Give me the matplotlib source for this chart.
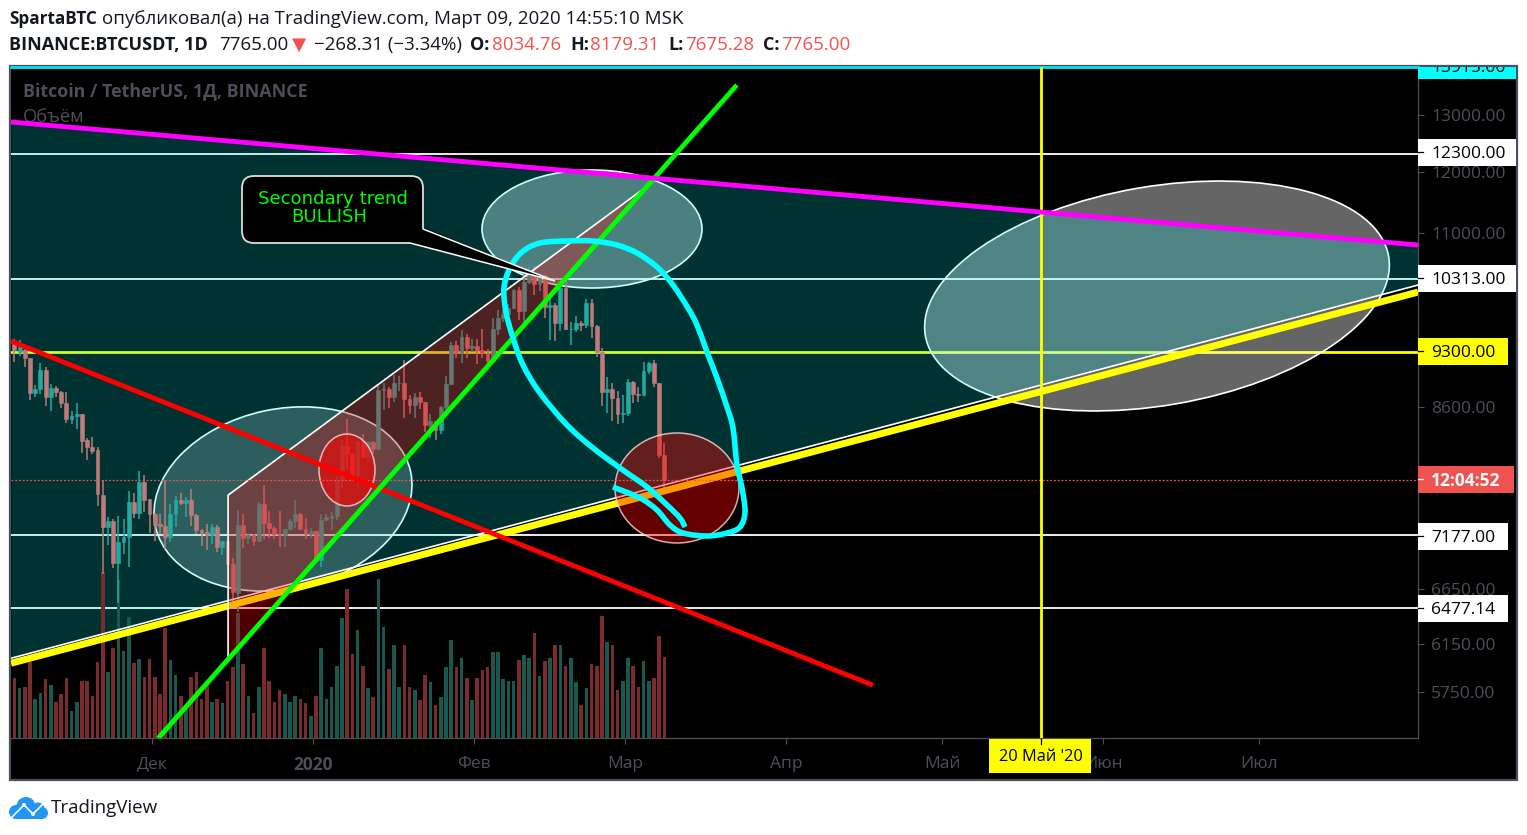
import numpy as np
import matplotlib
matplotlib.use("Agg")
import matplotlib.pyplot as plt
from matplotlib.patches import Circle, Ellipse, FancyBboxPatch, PathPatch, Polygon, Rectangle
from matplotlib.path import Path
from matplotlib.ticker import NullLocator
from matplotlib.transforms import Affine2D, Bbox, blended_transform_factory

plt.rcParams['font.family'] = ['Open Sans', 'DejaVu Sans']

# daily candles, 5 Nov 2019 .. 9 Mar 2020
opens = [9430, 9300, 9320, 9220, 8770, 8820, 9060, 8730, 8840, 8790, 8650, 8460, 8500, 8520, 8210, 8130,
         8100, 7600, 7260, 7320, 6900, 7110, 7160, 7520, 7410, 7740, 7550, 7400, 7290, 7270, 7160, 7400,
         7540, 7510, 7540, 7380, 7225, 7210, 7180, 7260, 7055, 7120, 6890, 6610, 7280, 7150, 7180, 7120,
         7500, 7300, 7250, 7190, 7175, 7240, 7320, 7400, 7240, 7190, 7215, 6930, 7335, 7350, 7370, 7760,
         8145, 8055, 7818, 8197, 8020, 8184, 8110, 8810, 8821, 8720, 8898, 8904, 8700, 8632, 8725, 8660,
         8385, 8430, 8330, 8600, 8890, 9390, 9285, 9500, 9350, 9380, 9330, 9290, 9180, 9610, 9750, 9810,
         9900, 10150, 9850, 10270, 10350, 10235, 10370, 9905, 9935, 9690, 10180, 9600, 9608, 9690, 9665,
         9970, 9650, 9300, 8785, 8820, 8710, 8523, 8530, 8915, 8760, 8750, 9050, 9160, 8900, 8034.76]
highs = [9470, 9460, 9360, 9220, 8870, 9150, 9100, 8890, 8860, 8800, 8790, 8560, 8650, 8520, 8230, 8250,
         8130, 7760, 7360, 7340, 7370, 7340, 7640, 7620, 7860, 7810, 7550, 7410, 7400, 7760, 7500, 7590,
         7620, 7580, 7660, 7400, 7245, 7290, 7290, 7280, 7120, 7120, 6950, 7440, 7400, 7200, 7190, 7520,
         7700, 7430, 7270, 7430, 7240, 7340, 7540, 7410, 7350, 7250, 7215, 7400, 7400, 7420, 7800, 8210,
         8455, 8060, 8200, 8286, 8197, 8196, 8880, 8900, 8850, 9000, 8988, 9198, 8745, 8773, 8790, 8670,
         8515, 8435, 8610, 8990, 9430, 9450, 9590, 9540, 9470, 9465, 9600, 9345, 9755, 9870, 9875, 9950,
         10165, 10190, 10390, 10495, 10500, 10395, 10385, 10050, 9970, 10250, 10300, 9700, 9780, 9710,
         10025, 10025, 9660, 9350, 8980, 8900, 8800, 8750, 8950, 8930, 8850, 9170, 9170, 9190, 8900, 8179.31]
lows = [9170, 9240, 9110, 8690, 8720, 8760, 8610, 8550, 8730, 8590, 8410, 8400, 8340, 8060, 7980, 8050,
        7475, 6790, 7080, 6850, 6520, 6990, 6860, 7350, 7340, 7420, 7200, 7120, 7190, 7040, 7110, 7260,
        7490, 7360, 7270, 7190, 7065, 7030, 7090, 7010, 6980, 6890, 6540, 6435, 7050, 7090, 7070, 7110,
        7140, 7150, 7140, 7060, 7060, 7230, 7250, 7230, 7140, 7150, 6910, 6865, 7320, 7230, 7330, 7670,
        7870, 7750, 7670, 8000, 7960, 8055, 8105, 8565, 8586, 8670, 8805, 8466, 8520, 8475, 8580, 8300,
        8240, 8215, 8285, 8560, 8870, 9220, 9150, 9225, 9300, 9145, 9225, 9080, 9165, 9530, 9700, 9670,
        9880, 9730, 9700, 10240, 10080, 10130, 9750, 9455, 9450, 9575, 9590, 9385, 9560, 9575, 9620,
        9480, 9230, 8615, 8530, 8430, 8400, 8410, 8490, 8650, 8660, 8740, 9020, 8850, 8000, 7675.28]
closes = [9330, 9370, 9220, 8770, 8830, 9060, 8730, 8840, 8790, 8650, 8460, 8500, 8520, 8200, 8130, 8090,
          7605, 7260, 7320, 6900, 7110, 7160, 7520, 7410, 7740, 7545, 7400, 7280, 7270, 7160, 7400, 7540,
          7510, 7540, 7380, 7225, 7195, 7180, 7260, 7055, 7120, 6890, 6620, 7280, 7150, 7180, 7120, 7500,
          7300, 7250, 7190, 7175, 7240, 7320, 7400, 7240, 7190, 7215, 6930, 7335, 7365, 7370, 7760, 8145,
          8055, 7818, 8197, 8020, 8184, 8110, 8810, 8821, 8720, 8898, 8904, 8700, 8632, 8725, 8660, 8385,
          8430, 8330, 8600, 8890, 9390, 9285, 9500, 9350, 9380, 9330, 9290, 9180, 9610, 9750, 9810, 9900,
          10150, 9850, 10270, 10350, 10235, 10370, 9905, 9935, 9690, 10180, 9600, 9608, 9690, 9665, 9970,
          9650, 9300, 8785, 8820, 8710, 8523, 8530, 8915, 8760, 8750, 9050, 9160, 8900, 8034, 7765]
volumes = [60, 50, 51, 76, 39, 45, 59, 53, 36, 44, 60, 27, 36, 57, 57, 42, 76, 166, 66, 90, 158, 87, 121, 75,
           79, 61, 79, 61, 44, 110, 78, 63, 42, 30, 61, 66, 39, 55, 36, 39, 35, 57, 71, 125, 74, 42, 25, 51,
           90, 57, 36, 48, 44, 36, 42, 39, 35, 22, 42, 90, 39, 51, 72, 120, 149, 84, 108, 72, 50, 41, 159,
           111, 69, 93, 51, 93, 51, 48, 38, 63, 56, 33, 41, 71, 98, 71, 80, 60, 38, 60, 68, 71, 86, 86, 59,
           57, 57, 78, 83, 80, 105, 62, 77, 80, 93, 93, 72, 80, 56, 33, 50, 74, 72, 122, 96, 93, 48, 57, 80,
           72, 51, 77, 57, 60, 102, 81]
first_day = -57.45  # days from 1 Jan 2020, bars sit a little left of the date ticks

month_days = [-31, 0, 31, 60, 91, 121, 152, 182]
month_labels = ['Дек', '2020', 'Фев', 'Мар', 'Апр', 'Май', 'Июн', 'Июл']
price_ticks = [13000, 12000, 11000, 8600, 6650, 6150, 5750]
hlines_white = [12300, 10313, 7177, 6477.14]
last_price = 7765
marker_day = 140

magenta_days, magenta_prices = [-58.1, 212.5], [12872, 10817]
yellow_days, yellow_prices = [-58.1, 212.5], [5989, 10121]
edge_days, edge_prices = [-58.1, 212.5], [6031, 10222]
red_days, red_prices = [-58.1, 107.7], [9443, 5805]
green_days, green_prices = [-29.8, 81.5], [5386, 13563]
wedge_days, wedge_prices = [-16.35, -16.35, 64.8], [6023, 7595, 11791]

# hand drawn cyan loop, figure pixels
loop_x = [613, 640, 657, 670, 683, 707, 727, 740, 745, 742, 737, 733, 727, 717, 707, 697, 688, 673, 657, 637,
          617, 593, 567, 540, 522, 510, 504, 506, 513, 523, 540, 567, 593, 620, 647, 667, 680, 685]
loop_y = [487, 498, 510, 525, 533, 536, 533, 527, 512, 488, 465, 428, 407, 378, 352, 325, 308, 285, 267, 253,
          245, 241, 241, 243, 252, 268, 288, 312, 338, 365, 393, 425, 448, 468, 487, 505, 518, 527]

W, H = 1527, 835
TICK = '#4d4e5a'
FRAME = '#4c4f5c'
DARK = '#131722'
RED = '#ef5350'

fig = plt.figure(figsize=(W / 100, H / 100), dpi=100, facecolor='white')
px = Affine2D().scale(1, -1).translate(0, H)


def fy(y):
    return 1 - y / H


fig.add_artist(Rectangle((10 / W, fy(780)), 1507 / W, 714 / H, transform=fig.transFigure,
                         facecolor='black', edgecolor=FRAME, linewidth=1.6, zorder=-1))

ax = fig.add_axes([11 / W, fy(738), 1407 / W, 671 / H], facecolor='black')
ax.set_yscale('log')
ax.set_xlim(-58.1, 212.5)
ax.set_ylim(5388, 13913)
for name in ['top', 'left']:
    ax.spines[name].set_visible(False)
for name in ['right', 'bottom']:
    ax.spines[name].set_color(FRAME)
    ax.spines[name].set_linewidth(0.9)

ax.yaxis.tick_right()
ax.yaxis.set_minor_locator(NullLocator())
ax.set_yticks(price_ticks, [f'{v:.2f}' for v in price_ticks])
ax.tick_params(axis='y', which='both', length=4, width=0.8, color=TICK, labelcolor=TICK, labelsize=12.5, pad=5.5)
ax.set_xticks(month_days, month_labels)
ax.tick_params(axis='x', length=4, width=0.8, color=TICK, labelcolor=TICK, labelsize=12.5, pad=9)
ax.get_xticklabels()[1].set_fontweight('bold')

# horizontal levels sit under the teal wedge
for level in hlines_white:
    ax.axhline(level, color='white', lw=1.3, zorder=1)
ax.axhline(9300, color='#ffff00', lw=2.0, zorder=1)
ax.axhline(13915, color='#00e5ee', lw=2.0, zorder=1, clip_on=False)

# white zones go under the teal too, so they stay grey on black
white_zones = [
    (283, 499, 261, 180, -12.1, 0.22),
    (592, 229, 220, 118, 0, 0.38),
    (1157, 296, 470, 219, -9.7, 0.4),
]
for cx, cy, w, h, angle, alpha in white_zones:
    ax.add_patch(Ellipse((cx, cy), w, h, angle=angle, transform=px, facecolor=(1, 1, 1, alpha),
                         edgecolor='white', lw=1.2, zorder=1.5))

ax.fill_between(magenta_days, magenta_prices, edge_prices, color='#00ffff', alpha=0.2, lw=0, zorder=2)

# volume
n = len(closes)
days = np.arange(n) + first_day
up = np.array(closes) >= np.array(opens)
vol_tr = blended_transform_factory(ax.transData, Affine2D().translate(0, H - 738))
ax.bar(days, volumes, width=0.7, color=['#19574f' if u else '#7b2b2b' for u in up], transform=vol_tr, zorder=3)

# candles
cols = ['#26a9a0' if u else '#bf7b7b' for u in up]
ax.vlines(days, lows, highs, colors=cols, lw=1.1, zorder=4)
ax.bar(days, np.array(closes) - np.array(opens), bottom=opens, width=0.74, color=cols, edgecolor=cols, lw=0.4, zorder=4)

ax.plot(yellow_days, yellow_prices, color='#ffff00', lw=5.0, solid_capstyle='butt', zorder=4.5)
ax.plot(edge_days, edge_prices, color='white', lw=1.2, zorder=4.5)

# translucent zones
ax.add_patch(Polygon(np.column_stack([wedge_days, wedge_prices]), closed=True, facecolor='#ff0000', alpha=0.3, lw=0, zorder=5))
ax.plot(wedge_days, wedge_prices, color='white', lw=1.2, zorder=5)

red_zones = [
    (347, 470, 56, 72, 0.6),
    (677, 488, 124, 110, 0.4),
]
for cx, cy, w, h, alpha in red_zones:
    ax.add_patch(Ellipse((cx, cy), w, h, transform=px, facecolor=(1, 0, 0, alpha),
                         edgecolor=(1, 0.85, 0.85, 0.8), lw=1.1, zorder=5.5))

ax.axhline(last_price, color=RED, lw=0.9, ls=(0, (1.5, 1.5)), zorder=5.8)
ax.axvline(marker_day, color='#ffff00', lw=2.0, zorder=6)
ax.plot(red_days, red_prices, color='#ff0000', lw=3.5, solid_capstyle='butt', zorder=6)
ax.plot(green_days, green_prices, color='#00ff00', lw=3.5, solid_capstyle='butt', zorder=6)
ax.plot(magenta_days, magenta_prices, color='#ff00ff', lw=3.5, solid_capstyle='butt', zorder=6)

# cyan loop through catmull-rom segments
pts = np.column_stack([loop_x, loop_y]).astype(float)
verts, codes = [pts[0]], [Path.MOVETO]
for i in range(len(pts) - 1):
    p0, p1, p2, p3 = pts[max(i - 1, 0)], pts[i], pts[i + 1], pts[min(i + 2, len(pts) - 1)]
    verts += [p1 + (p2 - p0) / 6, p2 - (p3 - p1) / 6, p2]
    codes += [Path.CURVE4] * 3
ax.add_patch(PathPatch(Path(verts, codes), transform=px, facecolor='none', edgecolor='#00ffff', lw=4.0, zorder=7,
                       capstyle='butt'))

# callout
tail = [(423, 229), (555, 281), (410, 243)]
ax.add_patch(FancyBboxPatch((242, 176), 181, 67, boxstyle='round,pad=0,rounding_size=12', transform=px,
                            facecolor='black', edgecolor='#dddddd', lw=1.3, zorder=7))
ax.add_patch(Polygon(tail, closed=False, transform=px, facecolor='black', edgecolor='white', lw=1.1, zorder=7.1))
ax.add_patch(Polygon([(405, 240), (425, 228), (555, 281)], transform=px, facecolor='black', lw=0, zorder=7.05))
ax.text(332.5, 199, 'Secondary trend', transform=px, color='#00ff00', family='DejaVu Sans', fontsize=13.1,
        ha='center', va='center', zorder=8)
ax.text(329, 217, 'BULLISH', transform=px, color='#00ff00', family='DejaVu Sans', fontsize=13.1,
        ha='center', va='center', zorder=8)

ax.text(23, 91, 'Bitcoin / TetherUS, 1Д, BINANCE', transform=px, color=TICK, fontsize=12.85, fontweight='bold',
        va='center', zorder=6.5)
ax.text(23, 117, 'Объём', transform=px, color=TICK, fontsize=13.2, va='center', zorder=5.9)

# price scale labels
labels = [
    (152, 1516, '12300.00', 'white', 'black'),
    (278, 1516, '10313.00', 'white', 'black'),
    (351, 1508, '9300.00', '#ffff00', 'black'),
    (536, 1508, '7177.00', 'white', 'black'),
    (608, 1508, '6477.14', 'white', 'black'),
    (479, 1514, '12:04:52', RED, 'white'),
]
for y, x1, txt, bg, fg in labels:
    ax.add_patch(Rectangle((1418, y - 13.5), x1 - 1418, 27, transform=px, facecolor=bg, lw=0, clip_on=False, zorder=9))
    ax.plot([1418, 1423], [y, y], transform=px, color=fg, lw=0.9, clip_on=False, zorder=10)
    ax.text(1431, y, txt, transform=px, color=fg, fontsize=12.5, va='center_baseline', clip_on=False, zorder=10,
            fontweight='bold' if fg == 'white' else 'normal')

ax.add_patch(Rectangle((1418, 67), 98, 12, transform=px, facecolor='#00ffff', lw=0, clip_on=False, zorder=9))
top_txt = ax.text(1431, 66, '13915.00', transform=px, color='black', fontsize=12.5, va='center_baseline', zorder=10)
top_txt.set_clip_on(True)
top_txt.set_clip_box(Bbox([[1418, H - 79], [1516, H - 67]]))

# date label
ax.add_patch(Rectangle((989, 739), 102, 34, transform=px, facecolor='#ffff00', lw=0, clip_on=False, zorder=9))
ax.text(1041, 757, "20 Май '20", transform=px, color='black', fontsize=11.8, ha='center', va='center', clip_on=False, zorder=10)
ax.plot([1041, 1041], [739, 744], transform=px, color='black', lw=0.9, clip_on=False, zorder=10)

# header
fig.text(9 / W, fy(19), 'SpartaBTC', color=DARK, fontsize=12.3, fontweight='bold', va='center')
fig.text(102 / W, fy(19), 'опубликовал(а) на TradingView.com, Март 09, 2020 14:55:10 MSK', color=DARK, fontsize=13.5, va='center')
header2 = [
    (9, 'BINANCE:BTCUSDT, 1D', DARK, 'bold', 13.0),
    (219, '7765.00', DARK, 'normal', 13.5),
    (292, '▼', RED, 'normal', 13.3),
    (314, '−268.31 (−3.34%)', DARK, 'normal', 13.5),
    (470, 'O:', DARK, 'bold', 13.0),
    (492, '8034.76', RED, 'normal', 13.5),
    (570, 'H:', DARK, 'bold', 13.0),
    (590, '8179.31', RED, 'normal', 13.5),
    (668, 'L:', DARK, 'bold', 13.0),
    (685, '7675.28', RED, 'normal', 13.5),
    (763, 'C:', DARK, 'bold', 13.0),
    (781, '7765.00', RED, 'normal', 13.5),
]
for x, txt, col, weight, size in header2:
    fig.text(x / W, fy(45), txt, color=col, fontsize=size, fontweight=weight, va='center')

# logo
blue = '#2196f3'
for cx, cy, r in [(16, 812, 7), (26, 806.5, 9.5), (38, 809, 6.5), (42, 813, 6)]:
    fig.add_artist(Circle((cx, cy), r, transform=px, facecolor=blue, lw=0))
fig.add_artist(Rectangle((16, 812), 26, 7, transform=px, facecolor=blue, lw=0))
logo_line = plt.Line2D([12, 24, 33, 44], [817, 805, 814, 803], transform=px, color='white', lw=1.2)
fig.add_artist(logo_line)
for cx, cy in [(24, 805), (33, 814)]:
    fig.add_artist(Circle((cx, cy), 2, transform=px, facecolor='white', lw=0))
fig.text(51 / W, fy(808), 'TradingView', color=DARK, fontsize=13.5, va='center')

fig.savefig('out.png', dpi=100, facecolor='white')
